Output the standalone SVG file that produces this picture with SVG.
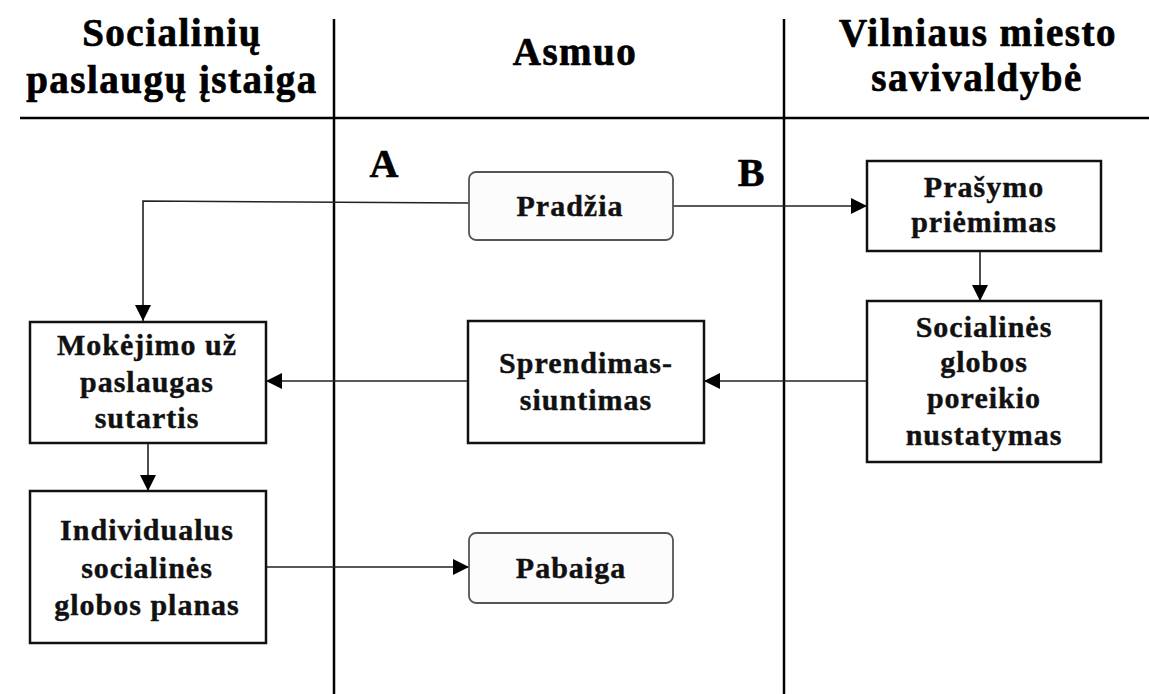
<svg xmlns="http://www.w3.org/2000/svg" width="1149" height="694" viewBox="0 0 1149 694">
  <style>
    .lane { stroke: #000; stroke-width: 2.5; fill: none; }
    .box { fill: #fff; stroke: #111; stroke-width: 2.5; }
    .term { fill: #fcfcfc; stroke: #555; stroke-width: 1.8; }
    .conn { stroke: #222; stroke-width: 1.6; fill: none; }
    .head { font-family: "Liberation Serif", "Times New Roman", serif; font-weight: bold; font-size: 39px; letter-spacing: 1.5px; text-anchor: middle; fill: #000; stroke: #000; stroke-width: 0.7; }
    .lbl { font-family: "Liberation Serif", "Times New Roman", serif; font-weight: bold; font-size: 30px; letter-spacing: 1px; text-anchor: middle; fill: #111; stroke: #111; stroke-width: 0.4; }
    .mark { font-family: "Liberation Serif", "Times New Roman", serif; font-weight: bold; font-size: 40px; text-anchor: middle; fill: #000; stroke: #000; stroke-width: 0.6; }
  </style>
  <defs>
    <marker id="arrow" markerUnits="userSpaceOnUse" markerWidth="16" markerHeight="16" refX="16" refY="8" orient="auto">
      <path d="M0,0 L16,8 L0,16 Z" fill="#000"/>
    </marker>
  </defs>
  <rect width="1149" height="694" fill="#fff"/>

  <!-- swimlane frame -->
  <g id="lanes">
    <line class="lane" x1="20" y1="118" x2="1149" y2="118"/>
    <line class="lane" x1="334" y1="19" x2="334" y2="694"/>
    <line class="lane" x1="784" y1="19" x2="784" y2="694"/>
    <text class="head" x="172" y="46">Socialinių</text>
    <text class="head" x="172" y="93">paslaugų įstaiga</text>
    <text class="head" x="575" y="65">Asmuo</text>
    <text class="head" x="978" y="46">Vilniaus miesto</text>
    <text class="head" x="977" y="91">savivaldybė</text>
    <text class="mark" x="384" y="177">A</text>
    <text class="mark" x="751" y="186">B</text>
  </g>

  <!-- connectors -->
  <g id="connectors">
    <polyline class="conn" points="469,203 143,201 143,321" marker-end="url(#arrow)"/>
    <line class="conn" x1="673" y1="206" x2="867" y2="206" marker-end="url(#arrow)"/>
    <line class="conn" x1="980" y1="251" x2="980" y2="301" marker-end="url(#arrow)"/>
    <line class="conn" x1="867" y1="381" x2="704" y2="381" marker-end="url(#arrow)"/>
    <line class="conn" x1="468" y1="381" x2="266" y2="381" marker-end="url(#arrow)"/>
    <line class="conn" x1="148" y1="443" x2="148" y2="491" marker-end="url(#arrow)"/>
    <line class="conn" x1="266" y1="567" x2="469" y2="567" marker-end="url(#arrow)"/>
  </g>

  <g id="pradzia">
    <rect class="term" x="469" y="172" width="204" height="68" rx="7"/>
    <text class="lbl" x="570" y="216">Pradžia</text>
  </g>

  <g id="prasymo-priemimas">
    <rect class="box" x="867" y="161" width="234" height="90"/>
    <text class="lbl" x="984" y="197">Prašymo</text>
    <text class="lbl" x="984" y="232">priėmimas</text>
  </g>

  <g id="poreikio-nustatymas">
    <rect class="box" x="867" y="301" width="234" height="161"/>
    <text class="lbl" x="984" y="337">Socialinės</text>
    <text class="lbl" x="984" y="372">globos</text>
    <text class="lbl" x="984" y="408">poreikio</text>
    <text class="lbl" x="984" y="445">nustatymas</text>
  </g>

  <g id="sprendimas-siuntimas">
    <rect class="box" x="468" y="321" width="236" height="122"/>
    <text class="lbl" x="586" y="373">Sprendimas-</text>
    <text class="lbl" x="586" y="410">siuntimas</text>
  </g>

  <g id="mokejimo-sutartis">
    <rect class="box" x="30" y="322" width="236" height="121"/>
    <text class="lbl" x="147" y="355">Mokėjimo už</text>
    <text class="lbl" x="147" y="392">paslaugas</text>
    <text class="lbl" x="147" y="428">sutartis</text>
  </g>

  <g id="individualus-planas">
    <rect class="box" x="30" y="491" width="236" height="152"/>
    <text class="lbl" x="147" y="540">Individualus</text>
    <text class="lbl" x="147" y="578">socialinės</text>
    <text class="lbl" x="147" y="615">globos planas</text>
  </g>

  <g id="pabaiga">
    <rect class="term" x="469" y="533" width="204" height="70" rx="7"/>
    <text class="lbl" x="571" y="578">Pabaiga</text>
  </g>
</svg>
